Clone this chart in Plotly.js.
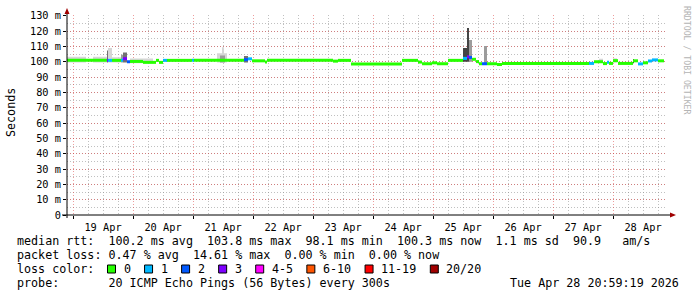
<!DOCTYPE html>
<html><head><meta charset="utf-8">
<script src="https://cdn.plot.ly/plotly-3.0.1.min.js"></script>
<style>html,body{margin:0;padding:0;background:#fff;} #chart{width:697px;height:297px;}</style>
</head><body><div id="chart"></div>
<script>
// ---------------- DATA ----------------
// median RTT, step segments (edges are segment boundaries)
const medianEdges = [
 '2026-04-18 21:36','2026-04-19 13:36','2026-04-19 14:00','2026-04-19 15:36','2026-04-19 19:12',
 '2026-04-19 20:00','2026-04-19 21:36','2026-04-19 22:48','2026-04-20 04:00','2026-04-20 09:12',
 '2026-04-20 10:24','2026-04-20 12:00','2026-04-20 13:36','2026-04-20 23:36','2026-04-21 00:24',
 '2026-04-21 20:24','2026-04-21 22:00','2026-04-21 23:36','2026-04-22 04:48','2026-04-22 05:36',
 '2026-04-23 08:00','2026-04-23 10:00','2026-04-23 15:12','2026-04-24 11:36','2026-04-24 18:00',
 '2026-04-24 19:36','2026-04-24 23:36','2026-04-25 01:36','2026-04-25 06:00','2026-04-25 12:00',
 '2026-04-25 13:36','2026-04-25 14:24','2026-04-25 15:36','2026-04-25 17:12','2026-04-25 18:24',
 '2026-04-25 19:36','2026-04-25 21:36','2026-04-26 01:36','2026-04-26 03:36','2026-04-27 14:24',
 '2026-04-27 16:24','2026-04-27 20:00','2026-04-27 21:36','2026-04-27 22:24','2026-04-28 00:00',
 '2026-04-28 02:00','2026-04-28 08:00','2026-04-28 10:00','2026-04-28 12:00','2026-04-28 14:00',
 '2026-04-28 15:36','2026-04-28 18:00','2026-04-28 20:24'
];
const medianMs = [
 100.9,100.9,100.9,100.9,100.9, 102.0,100.0,100.2,99.6,100.9,
 99.6,100.9,100.9,100.9,100.9, 101.4,101.9,100.6,99.8,100.9,
 100.4,100.9,98.5,100.9,99.8, 98.7,99.3,98.7,100.9,102.2,
 103.2,102.8,101.6,100.1,98.7, 98.7,98.7,98.2,98.9,98.9,
 100.0,98.8,99.7,98.9,100.7, 98.9,100.6,98.6,99.3,100.5,
 101.2,100.6
];
const medianLoss = [
 0,3,1,0,1, 3,2,0,0,0,
 0,1,0,1,0, 2,1,0,0,0,
 0,0,0,0,0, 0,0,0,0,1,
 3,2,0,0,0, 2,0,0,0,1,
 0,0,1,0,0, 0,0,1,0,1,
 1,0
];
// smoke (spread of the 20 pings)
const smokeStart = ['2026-04-18 21:36','2026-04-19 08:00','2026-04-19 13:36','2026-04-19 14:00','2026-04-19 15:36',
 '2026-04-19 19:12','2026-04-19 20:00','2026-04-19 22:48','2026-04-21 09:36','2026-04-21 11:36',
 '2026-04-21 10:48','2026-04-21 20:24','2026-04-25 12:00','2026-04-25 13:36','2026-04-25 14:24',
 '2026-04-25 20:24','2026-04-27 18:24','2026-04-28 00:00','2026-04-28 08:00'];
const smokeEnd = ['2026-04-19 05:12','2026-04-19 13:36','2026-04-19 14:00','2026-04-19 15:36','2026-04-19 19:12',
 '2026-04-19 20:00','2026-04-19 21:36','2026-04-20 08:00','2026-04-21 13:36','2026-04-21 12:24',
 '2026-04-21 12:48','2026-04-21 22:00','2026-04-25 14:24','2026-04-25 14:24','2026-04-25 15:36',
 '2026-04-25 21:36','2026-04-27 20:00','2026-04-28 01:36','2026-04-28 08:24'];
const smokeLow  = [99.5,99.5,99.5,99.5,99.5, 99.5,99.5,99.0,99.5,99.5, 99.5,99.5,100,100,100, 98,99.5,99.5,99.0];
const smokeHigh = [103.3,103.3,107.4,109.0,103.0, 104.6,106.1,102.1,105.5,109.5, 104.0,103.7,108.9,122,114.2, 110.3,102,102.2,101.8];
const smokeDensity = [0,0,2,0,0, 1,2,0,0,0, 1,2,3,3,1, 1,0,0,3];

const lossLabels = ['0','1','2','3','4-5','6-10','11-19','20/20'];
const yTickVals = [0,10,20,30,40,50,60,70,80,90,100,110,120,130];
const yTickText = ['0','10 m','20 m','30 m','40 m','50 m','60 m','70 m','80 m','90 m','100 m','110 m','120 m','130 m'];
const rttStats  = ['100.2 ms avg','103.8 ms max','98.1 ms min','100.3 ms now','1.1 ms sd','90.9   am/s'];
const lossStats = ['0.47 % avg','14.61 % max','0.00 % min','0.00 % now'];
const probeText = '20 ICMP Echo Pings (56 Bytes) every 300s';
const stampText = 'Tue Apr 28 20:59:19 2026';

// ---------------- STYLE ----------------
const LOSS_COLORS = ['#26ff00','#00b8ff','#0059ff','#7e00ff','#ff00ff','#ff5500','#ff0000','#a10000'];
const SMOKE_COLORS = ['#d6d6d6','#9c9c9c','#727272','#444444'];
const MONO = 'DejaVu Sans Mono, monospace';
const W=697,H=297,L=67,R=667,T=15,B=215;
const px = x => (x-L)/(R-L);
const py = y => (B-y)/(B-T);
const nb = s => s.replace(/ /g,'\u00a0');

function bucketOf(n){ if(n<=3) return n; if(n<=5) return 4; if(n<=10) return 5; if(n<20) return 6; return 7; }

const traces = [];
// smoke traces, light to dark
SMOKE_COLORS.forEach((col,lvl)=>{
  const xs=[],ys=[];
  smokeDensity.forEach((d,i)=>{
    if(d!==lvl) return;
    xs.push(smokeStart[i],smokeEnd[i],smokeEnd[i],smokeStart[i],smokeStart[i],null);
    ys.push(smokeLow[i],smokeLow[i],smokeHigh[i],smokeHigh[i],smokeLow[i],null);
  });
  if(xs.length) traces.push({type:'scatter',mode:'lines',x:xs,y:ys,fill:'toself',fillcolor:col,
    line:{width:0,color:col},hoverinfo:'skip',showlegend:false});
});
// median coloured by loss
LOSS_COLORS.forEach((col,b)=>{
  const xs=[],ys=[];
  medianMs.forEach((v,i)=>{
    if(bucketOf(medianLoss[i])!==b) return;
    xs.push(medianEdges[i],medianEdges[i+1],null);
    ys.push(v,v,null);
  });
  if(xs.length) traces.push({type:'scatter',mode:'lines',x:xs,y:ys,line:{width:3,color:col},
    hoverinfo:'skip',showlegend:false});
});

const shapes = [
  {type:'line',xref:'paper',yref:'paper',x0:px(67),x1:px(67),y0:py(218),y1:py(12),line:{color:'#000',width:1}},
  {type:'line',xref:'paper',yref:'paper',x0:px(62),x1:px(671),y0:py(215),y1:py(215),line:{color:'#000',width:1}},
  {type:'path',xref:'paper',yref:'paper',path:`M ${px(64.5)} ${py(14)} L ${px(69.5)} ${py(14)} L ${px(67)} ${py(8)} Z`,fillcolor:'#a00000',line:{width:0}},
  {type:'path',xref:'paper',yref:'paper',path:`M ${px(670)} ${py(212.5)} L ${px(670)} ${py(217.5)} L ${px(676)} ${py(215)} Z`,fillcolor:'#a00000',line:{width:0}}
];
const annotations = [];
const txt = (s,x,y,opt={}) => annotations.push(Object.assign({text:nb(s),x:px(x),y:py(y),xref:'paper',yref:'paper',
  showarrow:false,xanchor:'left',yanchor:'middle',font:{family:MONO,size:11.7,color:'#000'}},opt));

txt('median rtt:  '+rttStats.join('  '),15,241);
txt('packet loss: '+lossStats.join('  '),15,255);
txt('loss color:',15,269);
txt('probe:       '+probeText,15,283);
txt(stampText,681,283,{xanchor:'right'});
txt('Seconds',11,113,{xanchor:'center',textangle:-90});
txt('RRDTOOL / TOBI OETIKER',687,60,{xanchor:'center',textangle:90,font:{family:MONO,size:8.2,color:'#b4b4b4'}});

let lx = 122.5;
lossLabels.forEach((lab,i)=>{
  shapes.push({type:'rect',xref:'paper',yref:'paper',x0:px(lx-15),x1:px(lx-7),y0:py(273),y1:py(265),
    fillcolor:LOSS_COLORS[i],line:{color:'#000',width:1}});
  txt(lab,lx-1,269);
  lx += lab.length*7.05+30;
});

const layout = {
  width:W,height:H,autosize:false,margin:{l:L,r:W-R,t:T,b:H-B,pad:0},
  paper_bgcolor:'#fff',plot_bgcolor:'#fff',showlegend:false,
  xaxis:{type:'date',range:['2026-04-18 21:36','2026-04-28 21:36'],tickmode:'linear',tick0:'2026-04-19',
    dtick:86400000,ticklabelmode:'period',tickformat:'%d %b',showgrid:true,gridcolor:'rgba(220,60,60,0.5)',
    griddash:'1px,2px',gridwidth:1,ticks:'outside',ticklen:3,tickcolor:'#000',showline:false,zeroline:false,
    tickfont:{family:MONO,size:10.3,color:'#000'},fixedrange:true,
    minor:{dtick:21600000,tick0:'2026-04-19',showgrid:true,gridcolor:'rgba(140,140,140,0.55)',griddash:'1px,2px',gridwidth:1,ticks:''}},
  yaxis:{range:[0,130.5],tickmode:'array',tickvals:yTickVals,ticktext:yTickText,showgrid:true,
    gridcolor:'rgba(220,60,60,0.5)',griddash:'1px,2px',gridwidth:1,ticks:'outside',ticklen:3,tickcolor:'#000',
    showline:false,zeroline:false,tickfont:{family:MONO,size:10.3,color:'#000'},fixedrange:true,
    minor:{tickmode:'linear',tick0:0,dtick:5,showgrid:true,gridcolor:'rgba(140,140,140,0.55)',griddash:'1px,2px',gridwidth:1,ticks:''}},
  shapes:shapes,annotations:annotations
};
Plotly.newPlot('chart',traces,layout,{displayModeBar:false,staticPlot:true});
</script></body></html>
